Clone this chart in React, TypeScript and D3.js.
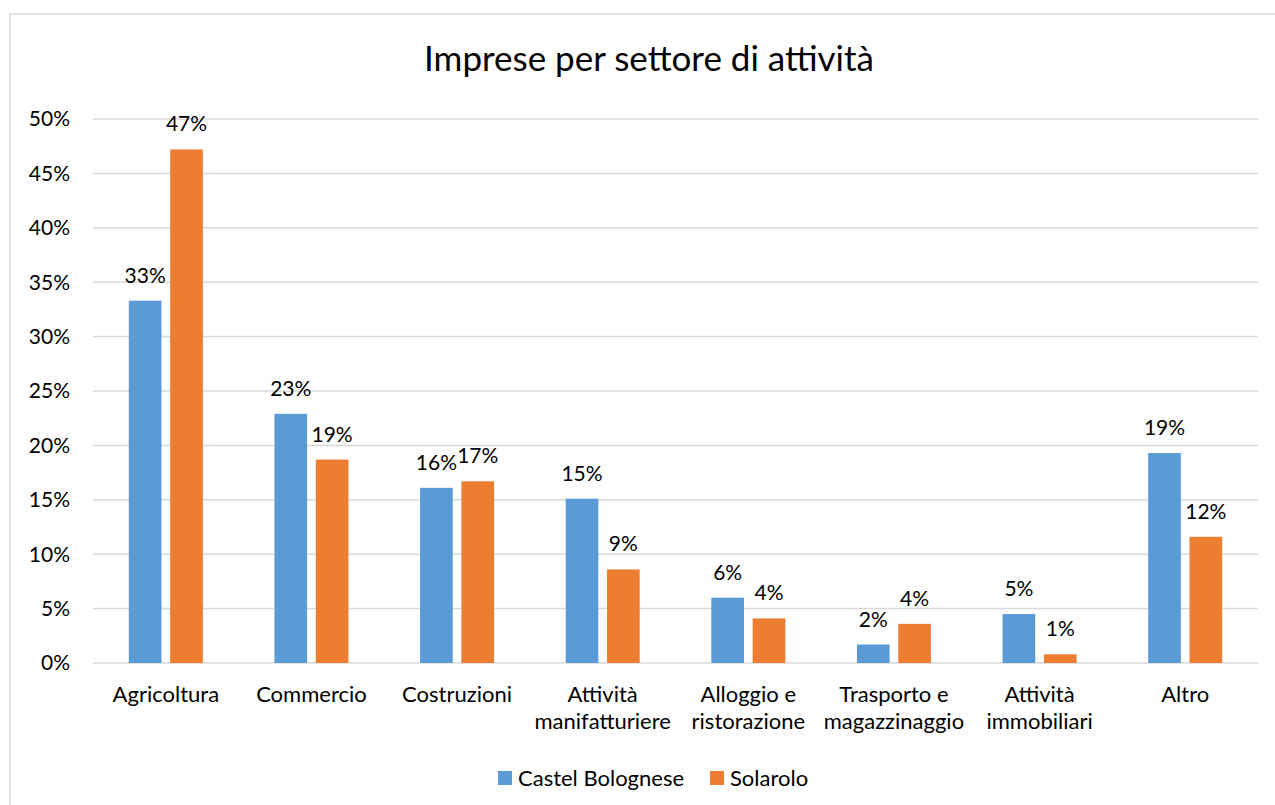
import * as d3 from 'd3';

const categories = [
    ['Agricoltura'],
    ['Commercio'],
    ['Costruzioni'],
    ['Attività', 'manifatturiere'],
    ['Alloggio e', 'ristorazione'],
    ['Trasporto e', 'magazzinaggio'],
    ['Attività', 'immobiliari'],
    ['Altro'],
];
const seriesNames = ['Castel Bolognese', 'Solarolo'];
const castelBolognese = [0.333, 0.229, 0.161, 0.151, 0.060, 0.017, 0.045, 0.193];
const solarolo = [0.472, 0.187, 0.167, 0.086, 0.041, 0.036, 0.008, 0.116];
const yTicks = [0, 0.05, 0.1, 0.15, 0.2, 0.25, 0.3, 0.35, 0.4, 0.45, 0.5];
const colors = ['#5B9BD5', '#ED7D31'];

const width = 1275;
const height = 805;
const marginLeft = 93;
const marginRight = 17;
const marginTop = 119;
const plotBottom = 663;
const font = 'Lato, "Open Sans", sans-serif';

export default function App() {
    const keys = categories.map((c) => c.join(' '));
    const x = d3.scaleBand<string>().domain(keys).range([marginLeft, width - marginRight]);
    const inner = d3.scaleBand<string>().domain(seriesNames).range([-37, 37]).paddingInner(0.21);
    const y = d3.scaleLinear().domain([0, 0.5]).range([plotBottom, marginTop]);
    const pct = d3.format('.0%');
    const series = [castelBolognese, solarolo];

    return (
        <svg width={width} height={height} style={{ position: 'absolute', left: 0, top: 0, background: 'white' }}>
            <rect x={10} y={14} width={width} height={height} fill="white" stroke="#d9d9d9" strokeWidth={1.5} />
            <text x={649} y={71} textAnchor="middle" style={{ font: `35px ${font}`, fill: '#000' }}>
                Imprese per settore di attività
            </text>

            {/* grid + y ticks */}
            {yTicks.map((t) => (
                <g key={t} transform={`translate(0, ${y(t)})`}>
                    <line x1={marginLeft} x2={width - marginRight} stroke="#d9d9d9" strokeWidth={1.5} />
                    <text x={70} dy="0.35em" textAnchor="end" style={{ font: `21px ${font}`, fill: '#000' }}>
                        {pct(t)}
                    </text>
                </g>
            ))}

            {/* bars */}
            {keys.map((k, i) => {
                const cx = (x(k) || 0) + x.bandwidth() / 2;
                return (
                    <g key={k}>
                        {series.map((vals, s) => {
                            const bx = cx + (inner(seriesNames[s]) || 0);
                            const v = vals[i];
                            return (
                                <g key={s}>
                                    <rect x={bx} y={y(v)} width={inner.bandwidth()} height={plotBottom - y(v)} fill={colors[s]} />
                                    <text
                                        x={bx + inner.bandwidth() / 2}
                                        y={y(v) - 18}
                                        textAnchor="middle"
                                        style={{ font: `21px ${font}`, fill: '#000' }}
                                    >
                                        {pct(v)}
                                    </text>
                                </g>
                            );
                        })}
                        {categories[i].map((line, j) => (
                            <text
                                key={j}
                                x={cx}
                                y={702 + j * 27}
                                textAnchor="middle"
                                style={{ font: `22px ${font}`, fill: '#000' }}
                            >
                                {line}
                            </text>
                        ))}
                    </g>
                );
            })}

            {/* legend */}
            {seriesNames.map((name, s) => {
                const lx = s === 0 ? 498 : 710;
                return (
                    <g key={name} transform={`translate(${lx}, 771)`}>
                        <rect width={14} height={14} fill={colors[s]} />
                        <text x={20} y={7} dy="0.35em" style={{ font: `22px ${font}`, fill: '#000' }}>
                            {name}
                        </text>
                    </g>
                );
            })}
        </svg>
    );
}
